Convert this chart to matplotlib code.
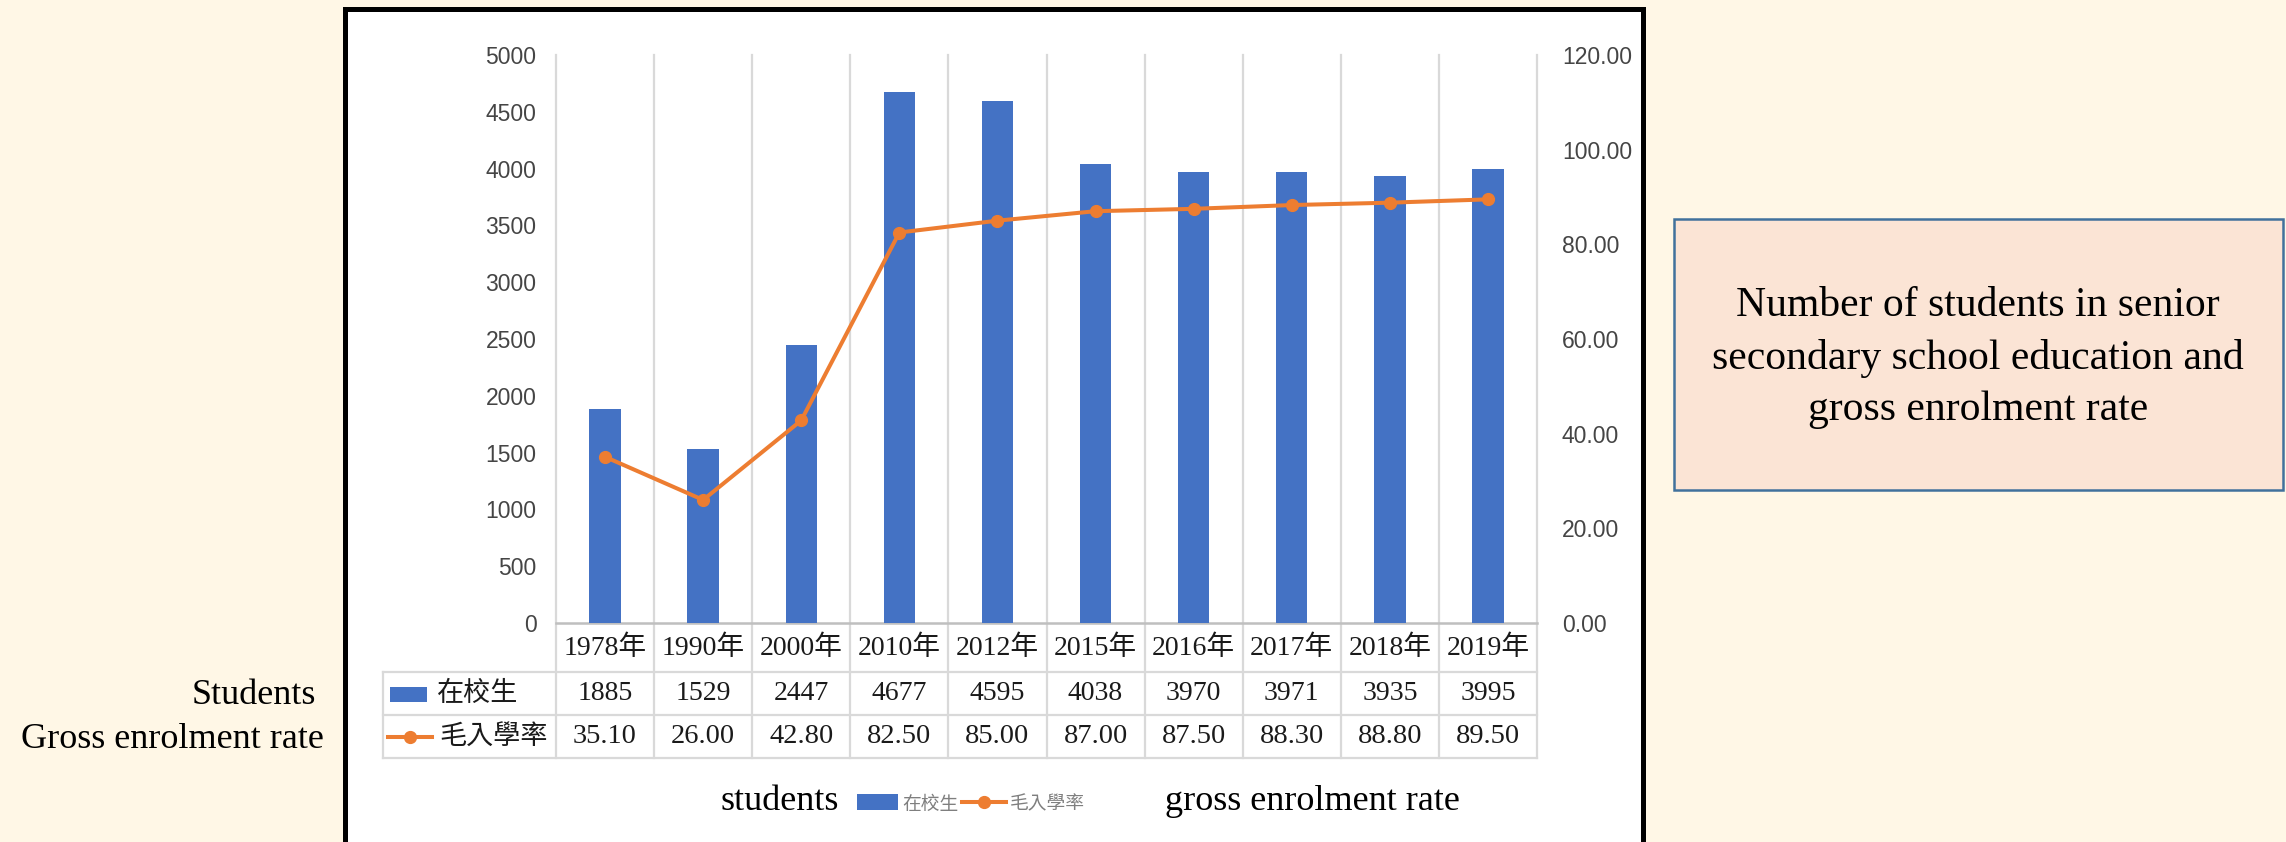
import matplotlib
matplotlib.use('Agg')
from matplotlib import pyplot as plt
from matplotlib.patches import Rectangle
from matplotlib.lines import Line2D
import matplotlib.transforms as mtransforms

years = ['1978年', '1990年', '2000年', '2010年', '2012年', '2015年', '2016年', '2017年', '2018年', '2019年']
students = [1885, 1529, 2447, 4677, 4595, 4038, 3970, 3971, 3935, 3995]
rate = [35.10, 26.00, 42.80, 82.50, 85.00, 87.00, 87.50, 88.30, 88.80, 89.50]
left_ticks = list(range(0, 5001, 500))
right_ticks = list(range(0, 121, 20))

W, H = 2286, 842
BLUE = '#4472C4'
ORANGE = '#ED7D31'
GRID = '#D9D9D9'
TICK = '#454545'
SERIF = ['Liberation Serif', 'Noto Sans CJK TC']
CJK = ['Noto Sans CJK TC', 'Liberation Serif']

def fx(x):
    return x / W

def fy(y):
    return 1 - y / H

fig = plt.figure(figsize=(W / 100, H / 100), dpi=100)
fig.patch.set_facecolor('#FFF7E6')

# white chart card with black frame (behind the axes)
fig.add_artist(Rectangle((fx(345), fy(845)), fx(1643) - fx(345), fy(9) - fy(845),
                         transform=fig.transFigure, facecolor='white', edgecolor='black', lw=3.6, zorder=-5))

top, bot = 55, 623
ax = fig.add_axes([fx(556), fy(bot), fx(1537) - fx(556), fy(top) - fy(bot)])
ax.set_facecolor('none')
x = list(range(len(years)))
ax.bar(x, students, width=0.32, color=BLUE, zorder=3)
ax.set_xlim(-0.5, 9.5)
ax.set_ylim(0, 5000)
ax.set_yticks(left_ticks)
ax.set_yticklabels([str(v) for v in left_ticks], fontsize=16.5, color=TICK, family='Liberation Sans')
ax.set_xticks([])
ax.tick_params(axis='y', length=0, pad=14)
for s in ['top', 'left', 'right']:
    ax.spines[s].set_visible(False)
ax.spines['bottom'].set_color('#BFBFBF')
ax.spines['bottom'].set_linewidth(1.8)

ax2 = ax.twinx()
ax2.plot(x, rate, color=ORANGE, lw=2.9, marker='o', markersize=8.5, zorder=4)
ax2.set_ylim(0, 120)
ax2.set_yticks(right_ticks)
ax2.set_yticklabels(['%.2f' % v for v in right_ticks], fontsize=16.5, color=TICK, family='Liberation Sans')
ax2.tick_params(axis='y', length=0, pad=18)
for s in ['top', 'left', 'right', 'bottom']:
    ax2.spines[s].set_visible(False)

# category separators running down through the data table
tbl_bot = 758
ymin = (bot - tbl_bot) / (bot - top)
for b in range(len(years) + 1):
    ax.axvline(b - 0.5, ymin=ymin, ymax=1, color=GRID, lw=1.6, clip_on=False, zorder=1)

# table horizontal rules
for yy in [672, 715, 758]:
    fig.add_artist(Line2D([fx(383), fx(1537)], [fy(yy), fy(yy)], transform=fig.transFigure, color=GRID, lw=1.6))
fig.add_artist(Line2D([fx(383), fx(383)], [fy(672), fy(758)], transform=fig.transFigure, color=GRID, lw=1.6))

tr = mtransforms.blended_transform_factory(ax.transData, fig.transFigure)
for i in x:
    ax.text(i, fy(648), years[i], transform=tr, ha='center', va='center', fontsize=20, family=SERIF, color='#1a1a1a')
    ax.text(i, fy(693.5), str(students[i]), transform=tr, ha='center', va='center', fontsize=20, family=SERIF, color='#1a1a1a')
    ax.text(i, fy(736.5), '%.2f' % rate[i], transform=tr, ha='center', va='center', fontsize=20.5, family=SERIF, color='#1a1a1a')

# legend keys inside table
fig.add_artist(Rectangle((fx(390), fy(702)), fx(427) - fx(390), fy(687) - fy(702),
                         transform=fig.transFigure, facecolor=BLUE, edgecolor='none'))
fig.text(fx(437), fy(693.5), '在校生', ha='left', va='center', fontsize=19.5, family=CJK, color='#1a1a1a')
fig.add_artist(Line2D([fx(388), fx(432)], [fy(737), fy(737)], transform=fig.transFigure, color=ORANGE, lw=2.9))
fig.add_artist(Line2D([fx(410)], [fy(737)], transform=fig.transFigure, color=ORANGE, marker='o', markersize=8.5))
fig.text(fx(439), fy(736.5), '毛入學率', ha='left', va='center', fontsize=19.5, family=CJK, color='#1a1a1a')

# bottom legend
ly = 802
fig.text(fx(721), fy(ly), 'students', ha='left', va='center', fontsize=26, family=SERIF, color='black')
fig.add_artist(Rectangle((fx(857), fy(ly + 8)), fx(898) - fx(857), fy(ly - 8) - fy(ly + 8),
                         transform=fig.transFigure, facecolor=BLUE, edgecolor='none'))
fig.text(fx(902), fy(ly + 2), '在校生', ha='left', va='center', fontsize=13.5, family=CJK, color='#7f7f7f')
fig.add_artist(Line2D([fx(962), fx(1006)], [fy(ly), fy(ly)], transform=fig.transFigure, color=ORANGE, lw=2.9))
fig.add_artist(Line2D([fx(984)], [fy(ly)], transform=fig.transFigure, color=ORANGE, marker='o', markersize=8.5))
fig.text(fx(1010), fy(ly + 2), '毛入學率', ha='left', va='center', fontsize=13.5, family=CJK, color='#7f7f7f')
fig.text(fx(1165), fy(ly), 'gross enrolment rate', ha='left', va='center', fontsize=26, family=SERIF, color='black')

# labels left of the card
fig.text(fx(316), fy(695), 'Students', ha='right', va='center', fontsize=26, family=SERIF, color='black')
fig.text(fx(324), fy(740), 'Gross enrolment rate', ha='right', va='center', fontsize=26, family=SERIF, color='black')

# title box on the right
fig.add_artist(Rectangle((fx(1674), fy(490)), fx(2283) - fx(1674), fy(219) - fy(490),
                         transform=fig.transFigure, facecolor='#FBE4D5', edgecolor='#41719C', lw=1.8))
fig.text(fx(1978), fy(358), 'Number of students in senior\nsecondary school education and\ngross enrolment rate',
         ha='center', va='center', fontsize=30, family=SERIF, color='black', linespacing=1.45)

fig.savefig('out.png', dpi=100, facecolor=fig.get_facecolor())
